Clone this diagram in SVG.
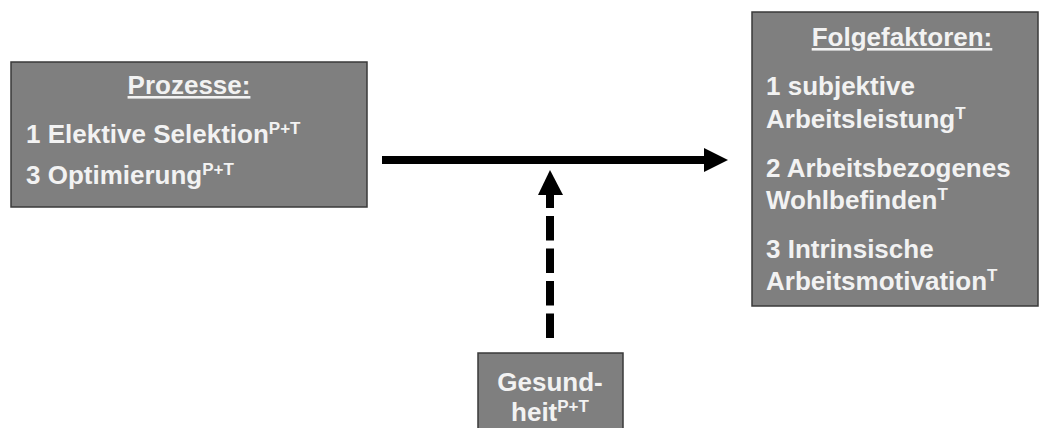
<svg xmlns="http://www.w3.org/2000/svg" width="1040" height="428" viewBox="0 0 1040 428">
  <style>
    .box { fill: #7f7f7f; stroke: #3a3a3a; stroke-width: 1.5; }
    .txt { font-family: "Liberation Sans", Arial, sans-serif; font-weight: bold; font-size: 26px; fill: #f2f2f2; }
    .title { text-decoration: underline; }
    .sup { font-size: 17px; }
    .conn { stroke: #000; stroke-width: 8; fill: none; }
  </style>
  <rect width="1040" height="428" fill="#ffffff"/>

  <g id="prozesse">
    <rect class="box" x="11" y="62" width="356" height="145"/>
    <text class="txt title" x="189" y="94" text-anchor="middle">Prozesse:</text>
    <text class="txt" x="26" y="143">1 Elektive Selektion<tspan class="sup" dy="-9">P+T</tspan></text>
    <text class="txt" x="26" y="184">3 Optimierung<tspan class="sup" dy="-9">P+T</tspan></text>
  </g>

  <g id="folgefaktoren">
    <rect class="box" x="752" y="12" width="286" height="294"/>
    <text class="txt title" x="902" y="46" text-anchor="middle">Folgefaktoren:</text>
    <text class="txt" x="766" y="95">1 subjektive</text>
    <text class="txt" x="766" y="128">Arbeitsleistung<tspan class="sup" dy="-9">T</tspan></text>
    <text class="txt" x="766" y="177">2 Arbeitsbezogenes</text>
    <text class="txt" x="766" y="209">Wohlbefinden<tspan class="sup" dy="-9">T</tspan></text>
    <text class="txt" x="766" y="258">3 Intrinsische</text>
    <text class="txt" x="766" y="290">Arbeitsmotivation<tspan class="sup" dy="-9">T</tspan></text>
  </g>

  <g id="gesundheit">
    <rect class="box" x="478" y="353" width="145" height="90"/>
    <text class="txt" x="550" y="391" text-anchor="middle">Gesund-</text>
    <text class="txt" x="550" y="421" text-anchor="middle">heit<tspan class="sup" dy="-9">P+T</tspan></text>
  </g>

  <g id="connectors">
    <line class="conn" x1="382" y1="160" x2="706" y2="160"/>
    <polygon points="704,148 728,160 704,172" fill="#000"/>
    <line class="conn" x1="550" y1="338" x2="550" y2="194" stroke-dasharray="24.5 8"/>
    <polygon points="538,195 550,170 563,195" fill="#000"/>
  </g>
</svg>
